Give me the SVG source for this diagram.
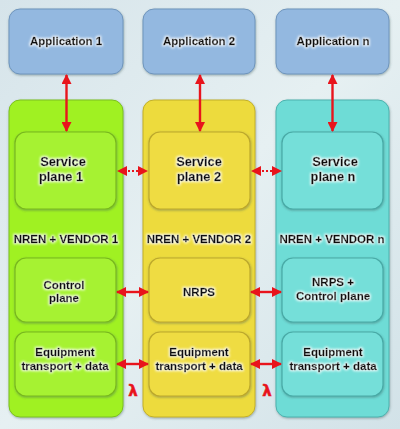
<svg xmlns="http://www.w3.org/2000/svg" width="400" height="429" viewBox="0 0 400 429">
<defs>
<linearGradient id="bg" x1="0" y1="0" x2="1" y2="1">
<stop offset="0" stop-color="#d6e4ea"/>
<stop offset="0.5" stop-color="#e6f0f2"/>
<stop offset="1" stop-color="#d2e2e8"/>
</linearGradient>
<filter id="shadow" x="-10%" y="-10%" width="120%" height="120%">
<feDropShadow dx="0.5" dy="1" stdDeviation="1" flood-color="#3a5a5a" flood-opacity="0.45"/>
</filter>
<filter id="glow" x="-10%" y="-30%" width="120%" height="160%">
<feMorphology in="SourceAlpha" operator="dilate" radius="1" result="d"/>
<feGaussianBlur in="d" stdDeviation="1" result="b"/>
<feFlood flood-color="#ffffff" flood-opacity="0.85"/>
<feComposite in2="b" operator="in" result="w"/>
<feMerge><feMergeNode in="w"/><feMergeNode in="SourceGraphic"/></feMerge>
</filter>
<marker id="ah" viewBox="0 0 10 10" refX="9" refY="5" markerWidth="11" markerHeight="10" markerUnits="userSpaceOnUse" orient="auto-start-reverse">
<path d="M0,0 L10,5 L0,10 Z" fill="#e8141c"/>
</marker>
</defs>
<style>
.app{fill:#93b8e0;stroke:#6f95bc;stroke-width:1}
.colg{fill:#a0f124;stroke:#7cc01c;stroke-width:1}
.coly{fill:#eddb3c;stroke:#c2b02a;stroke-width:1}
.colc{fill:#6edcd6;stroke:#4cb2ae;stroke-width:1}
.ing{fill:#a6f232;stroke:#78b81c;stroke-width:1.2}
.iny{fill:#efdc42;stroke:#bca82a;stroke-width:1.2}
.inc{fill:#74dfd9;stroke:#48aaa6;stroke-width:1.2}
text{font-family:"Liberation Sans",Arial,sans-serif;font-weight:bold;font-size:11.5px;fill:#111;stroke:#111;stroke-width:0.35;text-anchor:middle}
.sp{font-size:12.8px}
.lam{fill:#e8141c;stroke:#e8141c;stroke-width:0.5;font-size:15px;font-family:"DejaVu Sans",sans-serif}
.arr{stroke:#e8141c;stroke-width:2.4;fill:none;marker-start:url(#ah);marker-end:url(#ah)}
.dot{stroke:#e8141c;stroke-width:2.2;fill:none;stroke-dasharray:2 2}
</style>
<rect width="400" height="429" fill="url(#bg)"/>

<g id="app1" filter="url(#shadow)"><rect class="app" x="9" y="9" width="114" height="65" rx="11"/></g>
<g id="app2" filter="url(#shadow)"><rect class="app" x="143" y="9" width="112" height="65" rx="11"/></g>
<g id="appn" filter="url(#shadow)"><rect class="app" x="276" y="9" width="113" height="65" rx="11"/></g>

<g id="col1" filter="url(#shadow)"><rect class="colg" x="9" y="100" width="114" height="317" rx="11"/></g>
<g id="col2" filter="url(#shadow)"><rect class="coly" x="143" y="100" width="112" height="317" rx="11"/></g>
<g id="coln" filter="url(#shadow)"><rect class="colc" x="276" y="100" width="113" height="317" rx="11"/></g>

<g id="sp1" filter="url(#shadow)"><rect class="ing" x="15" y="132" width="101" height="77" rx="11"/></g>
<g id="sp2" filter="url(#shadow)"><rect class="iny" x="149" y="132" width="101" height="77" rx="11"/></g>
<g id="spn" filter="url(#shadow)"><rect class="inc" x="282" y="132" width="101" height="77" rx="11"/></g>

<g id="cp1" filter="url(#shadow)"><rect class="ing" x="15" y="258" width="101" height="64" rx="11"/></g>
<g id="nrps" filter="url(#shadow)"><rect class="iny" x="149" y="258" width="101" height="64" rx="11"/></g>
<g id="cpn" filter="url(#shadow)"><rect class="inc" x="282" y="258" width="101" height="64" rx="11"/></g>

<g id="eq1" filter="url(#shadow)"><rect class="ing" x="15" y="332" width="101" height="64" rx="11"/></g>
<g id="eq2" filter="url(#shadow)"><rect class="iny" x="149" y="332" width="101" height="64" rx="11"/></g>
<g id="eqn" filter="url(#shadow)"><rect class="inc" x="282" y="332" width="101" height="64" rx="11"/></g>

<g id="labels" filter="url(#glow)">
<text x="66" y="45">Application 1</text>
<text x="199" y="45">Application 2</text>
<text x="333" y="45">Application n</text>
<text class="sp" x="63" y="166">Service</text>
<text class="sp" x="61" y="181">plane 1</text>
<text class="sp" x="199" y="166">Service</text>
<text class="sp" x="199" y="181">plane 2</text>
<text class="sp" x="335" y="166">Service</text>
<text class="sp" x="333" y="181">plane n</text>
<text x="66" y="243">NREN + VENDOR 1</text>
<text x="199" y="243">NREN + VENDOR 2</text>
<text x="332" y="243">NREN + VENDOR n</text>
<text x="64" y="289">Control</text>
<text x="64" y="302">plane</text>
<text x="199" y="296">NRPS</text>
<text x="333" y="286">NRPS +</text>
<text x="333" y="300">Control plane</text>
<text x="65" y="356">Equipment</text>
<text x="65" y="370">transport + data</text>
<text x="199" y="356">Equipment</text>
<text x="199" y="370">transport + data</text>
<text x="333" y="356">Equipment</text>
<text x="333" y="370">transport + data</text>
</g>

<g id="connectors">
<line class="arr" x1="66.5" y1="75" x2="66.5" y2="131"/>
<line class="arr" x1="200" y1="75" x2="200" y2="131"/>
<line class="arr" x1="332.5" y1="75" x2="332.5" y2="131"/>
<path d="M117,171 L127,166 L127,176 Z M148,171 L138,166 L138,176 Z" fill="#e8141c"/>
<line class="dot" x1="128" y1="171" x2="138" y2="171"/>
<path d="M251,171 L261,166 L261,176 Z M282,171 L272,166 L272,176 Z" fill="#e8141c"/>
<line class="dot" x1="262" y1="171" x2="272" y2="171"/>
<line class="arr" x1="117" y1="292" x2="148" y2="292"/>
<line class="arr" x1="251" y1="292" x2="281" y2="292"/>
<line class="arr" x1="117" y1="364" x2="148" y2="364"/>
<line class="arr" x1="251" y1="364" x2="281" y2="364"/>
<text class="lam" x="133" y="396">λ</text>
<text class="lam" x="267" y="396">λ</text>
</g>
</svg>
